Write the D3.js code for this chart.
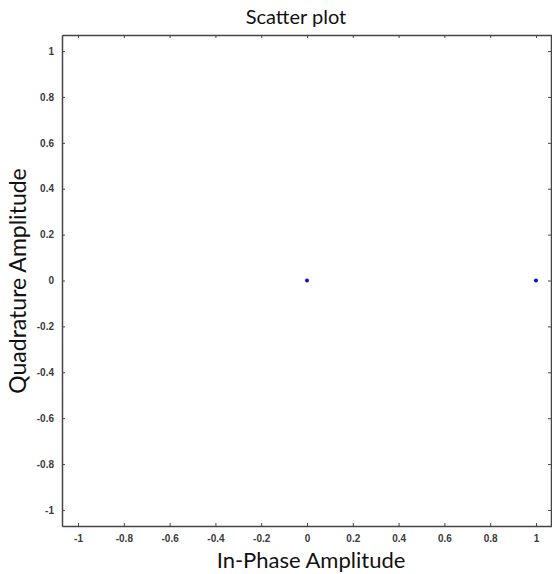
<!DOCTYPE html>
<meta charset="utf-8" />
<html>
    <head>
        <script src="https://d3js.org/d3.v7.min.js"></script>
        <style>
            body { margin: 0; background: #fff; }
            .tick text { font-family: "Liberation Sans", Arial, sans-serif; font-size: 10px; fill: #3a3a3a; font-weight: bold; }
            .lbl { font-family: Lato, "Open Sans", sans-serif; fill: #111; }
        </style>
    </head>
    <body>
        <svg width="552" height="574"></svg>
    </body>
    <script>
        // constellation points
        var inPhase = [0, 1];
        var quadrature = [0, 0];
        var tickVals = [-1, -0.8, -0.6, -0.4, -0.2, 0, 0.2, 0.4, 0.6, 0.8, 1];
        var lim = [-1.07, 1.07];

        var svg = d3.select("svg");
        var m = {left: 62, top: 35, right: 552, bottom: 526};

        var x = d3.scaleLinear().domain(lim).range([m.left, m.right]);
        var y = d3.scaleLinear().domain(lim).range([m.bottom, m.top]);
        // plain hyphen minus, like matlab
        var fmt = function(d) { return String(+d.toFixed(1)); };

        // axes, ticks pointing inward
        svg.append("g").attr("transform", "translate(0," + m.bottom + ")")
            .call(d3.axisBottom(x).tickValues(tickVals).tickFormat(fmt).tickSizeInner(-3).tickSizeOuter(0).tickPadding(9));
        svg.append("g").attr("transform", "translate(0," + m.top + ")")
            .call(d3.axisTop(x).tickValues(tickVals).tickFormat("").tickSizeInner(-3).tickSizeOuter(0));
        svg.append("g").attr("transform", "translate(" + m.left + ",0)")
            .call(d3.axisLeft(y).tickValues(tickVals).tickFormat(fmt).tickSizeInner(-3).tickSizeOuter(0).tickPadding(8));
        svg.append("g").attr("transform", "translate(" + (m.right - 1) + ",0)")
            .call(d3.axisRight(y).tickValues(tickVals).tickFormat("").tickSizeInner(-3).tickSizeOuter(0));

        svg.selectAll(".domain").attr("stroke", "#444").attr("stroke-width", 1.5);
        svg.selectAll(".tick line").attr("stroke", "#444");

        svg.selectAll(".pt").data(inPhase).enter().append("circle")
            .attr("class", "pt")
            .attr("cx", function(d) { return x(d); })
            .attr("cy", function(d, i) { return y(quadrature[i]); })
            .attr("r", 2)
            .attr("fill", "#1010c0");

        svg.append("text").attr("class", "lbl").attr("x", 296).attr("y", 24)
            .attr("text-anchor", "middle").attr("font-size", 20).text("Scatter plot");
        svg.append("text").attr("class", "lbl").attr("x", 311).attr("y", 568)
            .attr("text-anchor", "middle").attr("font-size", 22).text("In-Phase Amplitude");
        svg.append("text").attr("class", "lbl")
            .attr("transform", "translate(26,281) rotate(-90)")
            .attr("text-anchor", "middle").attr("font-size", 23).text("Quadrature Amplitude");
    </script>
</html>
